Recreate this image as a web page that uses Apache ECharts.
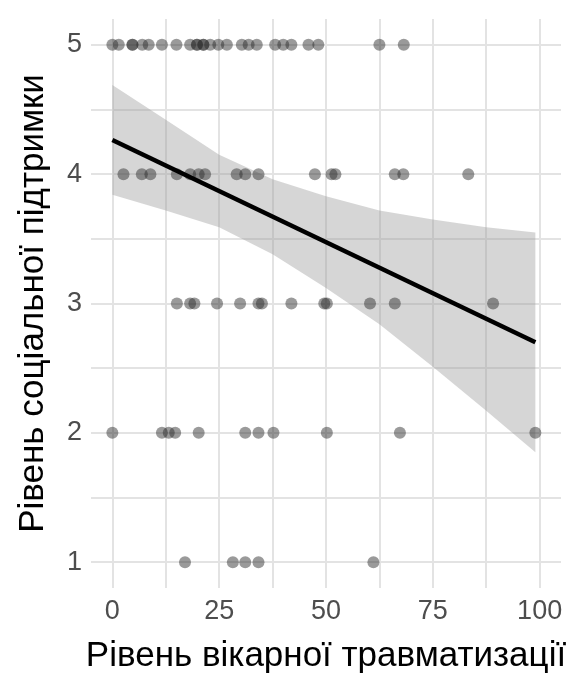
<!DOCTYPE html>
<html>
<head>
<meta charset="utf-8">
<title>Рівень вікарної травматизації</title>
<script src="https://cdn.jsdelivr.net/npm/echarts@6/dist/echarts.min.js"></script>
<style>
  html, body { margin: 0; padding: 0; background: #fff; }
  #chart { width: 580px; height: 686px; }
</style>
</head>
<body>
<div id="chart"></div>
<script>
// точки по рівнях соціальної підтримки (x = вікарна травматизація)
const level5 = [0, 1.5, 4.7, 4.7, 7, 8.5, 11.6, 15, 18.2, 19.8, 19.8, 21.3, 21.3, 22.9, 24.8, 26.8, 30.3, 31.9, 33.8, 38.1, 40, 41.9, 45.9, 48.2, 62.5, 68.2]
const level4 = [2.6, 6.9, 8.9, 15.1, 18.2, 20.2, 21.7, 29.1, 31.1, 34.2, 47.4, 51.3, 52.2, 66.1, 68.1, 83.3]
const level3 = [15.1, 18.2, 19.2, 24.5, 29.9, 34.2, 35, 41.9, 49.6, 50.2, 60.3, 66.1, 89.1]
const level2 = [0, 11.6, 13.2, 14.7, 20.2, 31.1, 34.2, 37.7, 50.2, 67.3, 99]
const level1 = [17, 28.2, 31.1, 34.2, 61.1]

// лінія регресії та довірчий інтервал
const fitX = [0, 99]
const fitY = [4.265, 2.70]
const bandX = [0, 12.5, 25, 37.5, 50, 62.5, 75, 87.5, 99]
const bandUpper = [4.69, 4.42, 4.15, 3.96, 3.83, 3.72, 3.65, 3.59, 3.55]
const bandLower = [3.84, 3.72, 3.59, 3.38, 3.12, 2.84, 2.51, 2.17, 1.85]

// підписи осей
const xTickLabels = [0, 25, 50, 75, 100]
const xGridValues = [0, 12.5, 25, 37.5, 50, 62.5, 75, 87.5, 100]
const yTickLabels = [1, 2, 3, 4, 5]
const yGridValues = [1, 1.5, 2, 2.5, 3, 3.5, 4, 4.5, 5]

const levels = [[1, level1], [2, level2], [3, level3], [4, level4], [5, level5]]
const points = []
levels.forEach(([y, xs]) => xs.forEach(x => points.push([x, y])))

const chart = echarts.init(document.getElementById('chart'))

const gridLine = { show: true, lineStyle: { color: '#e3e3e3', width: 2 } }
const font = 'Liberation Sans'

const option = {
  backgroundColor: '#fff',
  animation: false,
  grid: { left: 91, right: 19, top: 19, bottom: 98 },
  xAxis: {
    type: 'value',
    min: -5,
    max: 105,
    axisLine: { show: false },
    axisTick: { show: false, customValues: xGridValues },
    axisLabel: {
      customValues: xTickLabels,
      color: '#4d4d4d',
      fontSize: 27,
      fontFamily: font,
      margin: 10
    },
    splitLine: gridLine,
    name: 'Рівень вікарної травматизації',
    nameLocation: 'middle',
    nameGap: 51,
    nameTextStyle: { color: '#000', fontSize: 35, fontFamily: font }
  },
  yAxis: {
    type: 'value',
    min: 0.8,
    max: 5.2,
    axisLine: { show: false },
    axisTick: { show: false, customValues: yGridValues },
    axisLabel: {
      customValues: yTickLabels,
      color: '#4d4d4d',
      fontSize: 27,
      fontFamily: font,
      margin: 9
    },
    splitLine: gridLine,
    name: 'Рівень соціальної підтримки',
    nameLocation: 'middle',
    nameGap: 40,
    nameTextStyle: { color: '#000', fontSize: 35, fontFamily: font }
  },
  series: [
    {
      // довірчий інтервал
      type: 'custom',
      z: 1,
      data: [0],
      silent: true,
      renderItem: (params, api) => {
        const pts = []
        bandX.forEach((x, i) => pts.push(api.coord([x, bandUpper[i]])))
        for (let i = bandX.length - 1; i >= 0; i--) pts.push(api.coord([bandX[i], bandLower[i]]))
        return {
          type: 'polygon',
          shape: { points: pts },
          style: { fill: 'rgba(153,153,153,0.4)' }
        }
      }
    },
    {
      type: 'scatter',
      z: 2,
      symbolSize: 12,
      itemStyle: { color: 'rgba(43,43,43,0.6)' },
      data: points
    },
    {
      type: 'line',
      z: 3,
      symbol: 'none',
      lineStyle: { color: '#000', width: 4.5 },
      data: fitX.map((x, i) => [x, fitY[i]])
    }
  ]
}

chart.setOption(option)
</script>
</body>
</html>
